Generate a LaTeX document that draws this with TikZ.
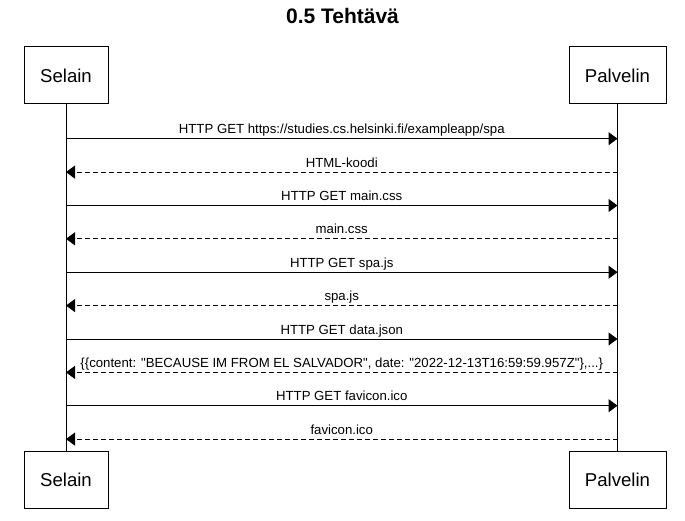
\documentclass[tikz,border=0pt]{standalone}
\usepackage{fontspec}
\setmainfont{Liberation Sans}[Ligatures=TeXOff]
\usetikzlibrary{arrows.meta}
\begin{document}
\begin{tikzpicture}[x=1pt,y=-1pt,
  actor/.style={draw=black, line width=1pt, minimum height=57pt, inner sep=0pt, font=\fontsize{18.6}{22}\selectfont},
  msgtext/.style={font=\fontsize{13.2}{15}\selectfont, anchor=base, yshift=5pt, inner sep=0pt},
  req/.style={draw=black, line width=1pt, -{Triangle[length=9pt,width=13pt]}},
  resp/.style={req, dash pattern=on 5pt off 3pt},
  life/.style={draw=black, line width=1pt}]
\useasboundingbox (0,0) rectangle (685,521);
\node[font=\bfseries\fontsize{21}{25}\selectfont, anchor=base] (title) at (342.5,23.5) {0.5 Tehtävä};
\node[actor, minimum width=84pt] (selT) at (66,75.5) {Selain};
\node[actor, minimum width=97pt] (palT) at (617.5,75.5) {Palvelin};
\node[actor, minimum width=84pt] (selB) at (66,479.5) {Selain};
\node[actor, minimum width=97pt] (palB) at (617.5,479.5) {Palvelin};
\draw[life] (selT) -- (selB);
\draw[life] (palT) -- (palB);
\foreach \i/\y in {1/138.7,2/172.1,3/205.5,4/238.8,5/272.2,6/305.6,7/339.0,8/372.4,9/405.7,10/439.1}{
  \coordinate (s\i) at (66,\y);
  \coordinate (p\i) at (617.5,\y);
}
\draw[req] (s1) -- (p1) node[msgtext, midway] {HTTP GET https://studies.cs.helsinki.fi/exampleapp/spa};
\draw[resp] (p2) -- (s2) node[msgtext, midway] {HTML-koodi};
\draw[req] (s3) -- (p3) node[msgtext, midway] {HTTP GET main.css};
\draw[resp] (p4) -- (s4) node[msgtext, midway] {main.css};
\draw[req] (s5) -- (p5) node[msgtext, midway] {HTTP GET spa.js};
\draw[resp] (p6) -- (s6) node[msgtext, midway] {spa.js};
\draw[req] (s7) -- (p7) node[msgtext, midway] {HTTP GET data.json};
\draw[resp] (p8) -- (s8) node[msgtext, midway] {\{\{content: "BECAUSE IM FROM EL SALVADOR", date: "2022-12-13T16:59:59.957Z"\},...\}};
\draw[req] (s9) -- (p9) node[msgtext, midway] {HTTP GET favicon.ico};
\draw[resp] (p10) -- (s10) node[msgtext, midway] {favicon.ico};
\end{tikzpicture}
\end{document}
